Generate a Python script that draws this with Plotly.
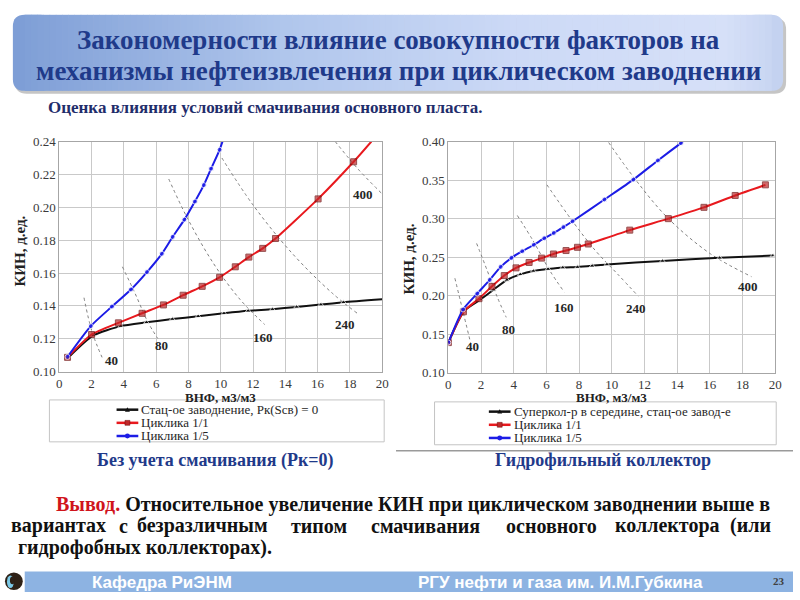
import plotly.graph_objects as go

# ---------------- data: left chart (без учета смачивания) ----------------
L_black_x = [0.5, 2.1, 3.8, 5.4, 7.0, 8.6, 10.2, 11.7, 13.2, 14.7, 16.2, 17.6, 20.0]
L_black_y = [0.108, 0.122, 0.1277, 0.130, 0.132, 0.1337, 0.1355, 0.137, 0.138, 0.1394, 0.1408, 0.1422, 0.144]
L_red_x = [0.51, 2.0, 3.66, 5.13, 6.45, 7.67, 8.85, 9.93, 10.9, 11.74, 12.6, 13.39, 16.03, 18.23, 19.33]
L_red_y = [0.1087, 0.1226, 0.1297, 0.1355, 0.1406, 0.1465, 0.1519, 0.1574, 0.1638, 0.1697, 0.175, 0.181, 0.2051, 0.2277, 0.24]
L_blue_x = [0.51, 1.95, 3.26, 4.44, 5.43, 6.35, 7.02, 7.75, 8.4, 8.95, 9.4, 9.93, 10.11]
L_blue_y = [0.109, 0.1277, 0.1396, 0.150, 0.1606, 0.1717, 0.1820, 0.1925, 0.2035, 0.2135, 0.2235, 0.235, 0.24]

L_iso = {
    "40": ([1.53, 2.03, 2.65], [0.145, 0.1242, 0.1087], (3.25, 0.1066)),
    "80": ([3.91, 4.68, 5.49, 6.10], [0.1638, 0.1479, 0.1301, 0.1202], (6.3, 0.1157)),
    "160": ([6.78, 7.93, 9.56, 11.19, 12.72], [0.2172, 0.1935, 0.1657, 0.144, 0.1287], (12.6, 0.121)),
    "240": ([10.07, 12.0, 14.45, 16.89, 18.47], [0.230, 0.2014, 0.1717, 0.1479, 0.1354], (17.7, 0.1289)),
    "400": ([17.09, 18.51, 19.94], [0.24, 0.2232, 0.2087], (18.8, 0.208)),
}

# ---------------- data: right chart (гидрофильный коллектор) ----------------
R_black_x = [0, 0.96, 1.97, 2.77, 3.58, 4.4, 5.2, 6.1, 7.0, 7.9, 8.8, 9.7, 13.1, 16.6, 19.86]
R_black_y = [0.139, 0.180, 0.195, 0.2077, 0.2204, 0.2276, 0.232, 0.2344, 0.2364, 0.237, 0.2386, 0.2405, 0.245, 0.249, 0.252]
R_red_x = [0, 0.92, 1.87, 2.67, 3.42, 4.14, 4.94, 5.71, 6.43, 7.2, 7.9, 8.56, 11.1, 13.46, 15.64, 17.55, 19.4]
R_red_y = [0.139, 0.179, 0.196, 0.212, 0.226, 0.236, 0.243, 0.2487, 0.254, 0.2585, 0.2627, 0.267, 0.285, 0.2999, 0.3146, 0.330, 0.3438]
R_blue_x = [0, 0.9, 1.77, 2.53, 3.2, 3.86, 4.52, 5.23, 5.87, 6.45, 7.04, 7.6, 9.55, 11.32, 12.82, 14.23, 14.35]
R_blue_y = [0.139, 0.182, 0.2027, 0.2204, 0.2373, 0.249, 0.2576, 0.266, 0.2745, 0.2813, 0.2889, 0.2965, 0.3248, 0.3506, 0.3755, 0.398, 0.40]

R_iso = {
    "40": ([0.40, 0.86, 1.37], [0.2225, 0.1823, 0.138], (1.45, 0.1338)),
    "80": ([1.73, 2.37, 2.97, 3.54], [0.2677, 0.233, 0.1992, 0.1718], (3.7, 0.156)),
    "160": ([4.22, 5.19, 6.19, 7.10], [0.304, 0.2711, 0.233, 0.2043], (7.1, 0.1845)),
    "240": ([6.03, 7.60, 9.0, 10.41, 11.62], [0.3438, 0.2965, 0.2584, 0.2267, 0.1992], (11.5, 0.1836)),
    "400": ([9.81, 11.42, 13.43, 16.04, 18.55], [0.3987, 0.3514, 0.3007, 0.2542, 0.2246], (18.35, 0.212)),
}

L_names = ["Стац-ое заводнение, Рк(Sсв) = 0", "Циклика 1/1", "Циклика 1/5"]
R_names = ["Суперкол-р в середине, стац-ое завод-е", "Циклика 1/1", "Циклика 1/5"]

x_ticks = [0, 2, 4, 6, 8, 10, 12, 14, 16, 18, 20]
L_yticks = [0.10, 0.12, 0.14, 0.16, 0.18, 0.20, 0.22, 0.24]
R_yticks = [0.10, 0.15, 0.20, 0.25, 0.30, 0.35, 0.40]

# ---------------- helpers (pixel -> paper) ----------------
W, H = 800, 600
def X(px):
    return px / W
def Y(py):
    return 1 - py / H

SERIF = "Liberation Serif, Times New Roman, DejaVu Serif, serif"
SANS = "Liberation Sans, Arial, sans-serif"
NAVY = "#1f3a8a"
RED = "#e8191e"
BLUE = "#1c1ce6"
BLACK = "#111111"
RED_MK = "#c0282a"

fig = go.Figure()

def marker_sizes(n, s, last_hidden):
    sizes = [s] * n
    if last_hidden:
        sizes[-1] = 0
    return sizes

def add_series(xa, ya, bx, by, rx, ry, ux, uy, names, b_hide, r_hide, u_hide):
    fig.add_trace(go.Scatter(x=bx, y=by, mode="lines+markers", name=names[0], showlegend=False,
                             xaxis=xa, yaxis=ya, line=dict(color=BLACK, width=2, shape="spline", smoothing=0.6),
                             marker=dict(symbol="triangle-up", size=marker_sizes(len(bx), 5, b_hide), color=BLACK)))
    fig.add_trace(go.Scatter(x=rx, y=ry, mode="lines+markers", name=names[1], showlegend=False,
                             xaxis=xa, yaxis=ya, line=dict(color=RED, width=2, shape="spline", smoothing=0.6),
                             marker=dict(symbol="square", size=marker_sizes(len(rx), 6, r_hide), color=RED_MK,
                                         line=dict(color="#6b0a0a", width=1))))
    fig.add_trace(go.Scatter(x=ux, y=uy, mode="lines+markers", name=names[2], showlegend=False,
                             xaxis=xa, yaxis=ya, line=dict(color=BLUE, width=2, shape="spline", smoothing=0.6),
                             marker=dict(symbol="circle", size=marker_sizes(len(ux), 5, u_hide), color=BLUE)))

def add_iso(xa, ya, iso, xref, yref):
    for label, (ix, iy, (lx, ly)) in iso.items():
        fig.add_trace(go.Scatter(x=ix, y=iy, mode="lines", showlegend=False, hoverinfo="skip",
                                 xaxis=xa, yaxis=ya,
                                 line=dict(color="#7f7f7f", width=1, dash="dot", shape="spline")))
        fig.add_annotation(x=lx, y=ly, xref=xref, yref=yref, text="<b>" + label + "</b>",
                           showarrow=False, font=dict(family=SERIF, size=13, color="#262626"))

add_iso("x", "y", L_iso, "x", "y")
add_iso("x2", "y2", R_iso, "x2", "y2")
add_series("x", "y", L_black_x, L_black_y, L_red_x, L_red_y, L_blue_x, L_blue_y, L_names, True, True, True)
add_series("x2", "y2", R_black_x, R_black_y, R_red_x, R_red_y, R_blue_x, R_blue_y, R_names, False, False, True)

axis_common = dict(showline=True, mirror=True, linecolor="#a6a6a6", linewidth=1,
                   showgrid=True, gridcolor="#c9c9c9", gridwidth=1, zeroline=False, ticks="",
                   tickfont=dict(family=SERIF, size=13, color="#3a3a3a"))

fig.update_layout(
    width=W, height=H, margin=dict(l=0, r=0, t=0, b=0, pad=0), autosize=False,
    paper_bgcolor="white", plot_bgcolor="white", showlegend=False,
    xaxis=dict(domain=[X(57), X(384)], range=[0, 20], tickvals=x_ticks, anchor="y", **axis_common),
    yaxis=dict(domain=[Y(374), Y(138)], range=[0.10, 0.24], tickvals=L_yticks, tickformat=".2f", anchor="x", **axis_common),
    xaxis2=dict(domain=[X(451), X(782)], range=[0, 20], tickvals=x_ticks, anchor="y2", **axis_common),
    yaxis2=dict(domain=[Y(375), Y(138)], range=[0.10, 0.40], tickvals=R_yticks, tickformat=".2f", anchor="x2", **axis_common),
)

shapes = []

def rounded_path(x0, y0, x1, y1, r):
    return (f"M {X(x0+r)} {Y(y0)} L {X(x1-r)} {Y(y0)} Q {X(x1)} {Y(y0)} {X(x1)} {Y(y0+r)} "
            f"L {X(x1)} {Y(y1-r)} Q {X(x1)} {Y(y1)} {X(x1-r)} {Y(y1)} "
            f"L {X(x0+r)} {Y(y1)} Q {X(x0)} {Y(y1)} {X(x0)} {Y(y1-r)} "
            f"L {X(x0)} {Y(y0+r)} Q {X(x0)} {Y(y0)} {X(x0+r)} {Y(y0)} Z")

# header shadow
shapes.append(dict(type="path", xref="paper", yref="paper", path=rounded_path(12, 11, 793, 89, 12),
                   fillcolor="rgba(90,90,90,0.35)", line=dict(width=0), layer="below"))

# header gradient
stops = [(0.0, (126, 158, 214)), (0.35, (176, 198, 236)), (0.65, (204, 217, 246)), (0.92, (214, 224, 248)), (1.0, (196, 210, 240))]
def grad(t):
    for (t0, c0), (t1, c1) in zip(stops[:-1], stops[1:]):
        if t0 <= t <= t1:
            f = (t - t0) / (t1 - t0)
            return "rgb(%d,%d,%d)" % tuple(round(a + (b - a) * f) for a, b in zip(c0, c1))
    return "rgb(%d,%d,%d)" % stops[-1][1]

hx0, hx1, hy0, hy1, hr = 10, 790, 8, 86, 12
shapes.append(dict(type="path", xref="paper", yref="paper", path=rounded_path(hx0, hy0, hx0 + 40, hy1, hr),
                   fillcolor=grad(0.0), line=dict(width=0), layer="below"))
shapes.append(dict(type="path", xref="paper", yref="paper", path=rounded_path(hx1 - 40, hy0, hx1, hy1, hr),
                   fillcolor=grad(1.0), line=dict(width=0), layer="below"))
nstrip = 120
sx0, sx1 = hx0 + hr, hx1 - hr
for i in range(nstrip):
    a = sx0 + (sx1 - sx0) * i / nstrip
    b = sx0 + (sx1 - sx0) * (i + 1) / nstrip + 0.6
    t = (a - hx0) / (hx1 - hx0)
    shapes.append(dict(type="rect", xref="paper", yref="paper", x0=X(a), x1=X(b), y0=Y(hy1), y1=Y(hy0),
                       fillcolor=grad(t), line=dict(width=0), layer="below"))

# legend boxes
shapes.append(dict(type="rect", xref="paper", yref="paper", x0=X(47), x1=X(386), y0=Y(446), y1=Y(403),
                   line=dict(color="#c4c4c4", width=1), fillcolor="rgba(0,0,0,0)"))
shapes.append(dict(type="rect", xref="paper", yref="paper", x0=X(437), x1=X(783), y0=Y(449), y1=Y(405),
                   line=dict(color="#c4c4c4", width=1), fillcolor="rgba(0,0,0,0)"))
# separator line under right legend
shapes.append(dict(type="line", xref="paper", yref="paper", x0=X(398), x1=X(800), y0=Y(455), y1=Y(455),
                   line=dict(color="#9a9a9a", width=1.5)))

# footer bar
shapes.append(dict(type="rect", xref="paper", yref="paper", x0=X(22), x1=X(800), y0=Y(600), y1=Y(579),
                   fillcolor="#8db3e2", line=dict(width=0), layer="below"))
# logo
shapes.append(dict(type="circle", xref="paper", yref="paper", x0=X(2), x1=X(20), y0=Y(598), y1=Y(580),
                   fillcolor="#2e2116", line=dict(width=0)))
shapes.append(dict(type="circle", xref="paper", yref="paper", x0=X(4), x1=X(11), y0=Y(596), y1=Y(583),
                   fillcolor="#7cc9e6", line=dict(width=0)))
shapes.append(dict(type="circle", xref="paper", yref="paper", x0=X(7), x1=X(12), y0=Y(592), y1=Y(584),
                   fillcolor="#2e2116", line=dict(width=0)))

ann = []
def txt(text, x, y, size, color="#222", family=SERIF, xanchor="center", angle=0):
    ann.append(dict(text=text, x=X(x), y=Y(y), xref="paper", yref="paper", showarrow=False,
                    xanchor=xanchor, yanchor="middle", textangle=angle,
                    font=dict(family=family, size=size, color=color)))

# legend entries (drawn as key line + marker + label)
def legend_entry(x0, y, color, mk, label):
    shapes.append(dict(type="line", xref="paper", yref="paper", x0=X(x0), x1=X(x0 + 22), y0=Y(y), y1=Y(y),
                       line=dict(color=color, width=2.5)))
    cx = x0 + 11
    if mk == "tri":
        shapes.append(dict(type="path", xref="paper", yref="paper",
                           path=f"M {X(cx-2.5)} {Y(y+2)} L {X(cx+2.5)} {Y(y+2)} L {X(cx)} {Y(y-2.5)} Z",
                           fillcolor=color, line=dict(width=0)))
    elif mk == "sq":
        shapes.append(dict(type="rect", xref="paper", yref="paper", x0=X(cx-2.5), x1=X(cx+2.5),
                           y0=Y(y+2.5), y1=Y(y-2.5), fillcolor=RED_MK, line=dict(color="#6b0a0a", width=0.5)))
    else:
        shapes.append(dict(type="circle", xref="paper", yref="paper", x0=X(cx-2.5), x1=X(cx+2.5),
                           y0=Y(y+2.5), y1=Y(y-2.5), fillcolor=color, line=dict(width=0)))
    txt(label, x0 + 23, y, 13, "#262626", xanchor="left")

for (lbl, col, mk), yy in zip(zip(L_names, [BLACK, RED, BLUE], ["tri", "sq", "ci"]), [413, 426.5, 440]):
    legend_entry(115, yy, col, mk, lbl)
for (lbl, col, mk), yy in zip(zip(R_names, [BLACK, RED, BLUE], ["tri", "sq", "ci"]), [415, 428.5, 442]):
    legend_entry(492, yy, col, mk, lbl)

fig.update_layout(shapes=shapes)

# title
txt("<b>Закономерности влияние совокупности факторов на</b>", 400, 34, 27, NAVY)
txt("<b>механизмы нефтеизвлечения при циклическом заводнении</b>", 400, 66, 27, NAVY)
txt("<b>Оценка влияния условий смачивания основного пласта.</b>", 44, 103, 17, "#1f2d6b", xanchor="left")

# axis titles
txt("<b>КИН, д.ед.</b>", 17, 250, 15, "#222", angle=-90)
txt("<b>КИН, д.ед.</b>", 411, 258, 15, "#222", angle=-90)
txt("<b>ВНФ, м3/м3</b>", 220, 400, 13, "#222")
txt("<b>ВНФ, м3/м3</b>", 616, 400, 13, "#222")

# captions
txt("<b>Без учета смачивания (Рк=0)</b>", 215, 465, 18, NAVY)
txt("<b>Гидрофильный коллектор</b>", 608, 465, 18, NAVY)

# conclusion
txt("<b><span style='color:#d0141c'>Вывод.</span> Относительное увеличение КИН при циклическом заводнении выше в</b>",
    52, 510, 20, "#111", xanchor="left")
line2 = [("вариантах", 56), ("с", 122), ("безразличным", 202), ("типом", 320), ("смачивания", 428),
         ("основного", 555), ("коллектора", 673), ("(или", 757)]
for w, xpos in line2:
    txt("<b>" + w + "</b>", xpos, 532, 20, "#111")
txt("<b>гидрофобных коллекторах).</b>", 13, 554, 20, "#111", xanchor="left")

# footer
txt("<b>Кафедра РиЭНМ</b>", 88, 590, 17, "white", family=SANS, xanchor="left")
txt("<b>РГУ нефти и газа им. И.М.Губкина</b>", 418, 590, 17, "white", family=SANS, xanchor="left")
txt("<b>23</b>", 786, 589, 11, "#404040")

fig.update_layout(annotations=list(fig.layout.annotations) + ann)

fig.write_html("out.html", config={"displayModeBar": False},
               post_script="document.body.style.margin='0px';document.documentElement.style.overflow='hidden';document.body.style.overflow='hidden';")
